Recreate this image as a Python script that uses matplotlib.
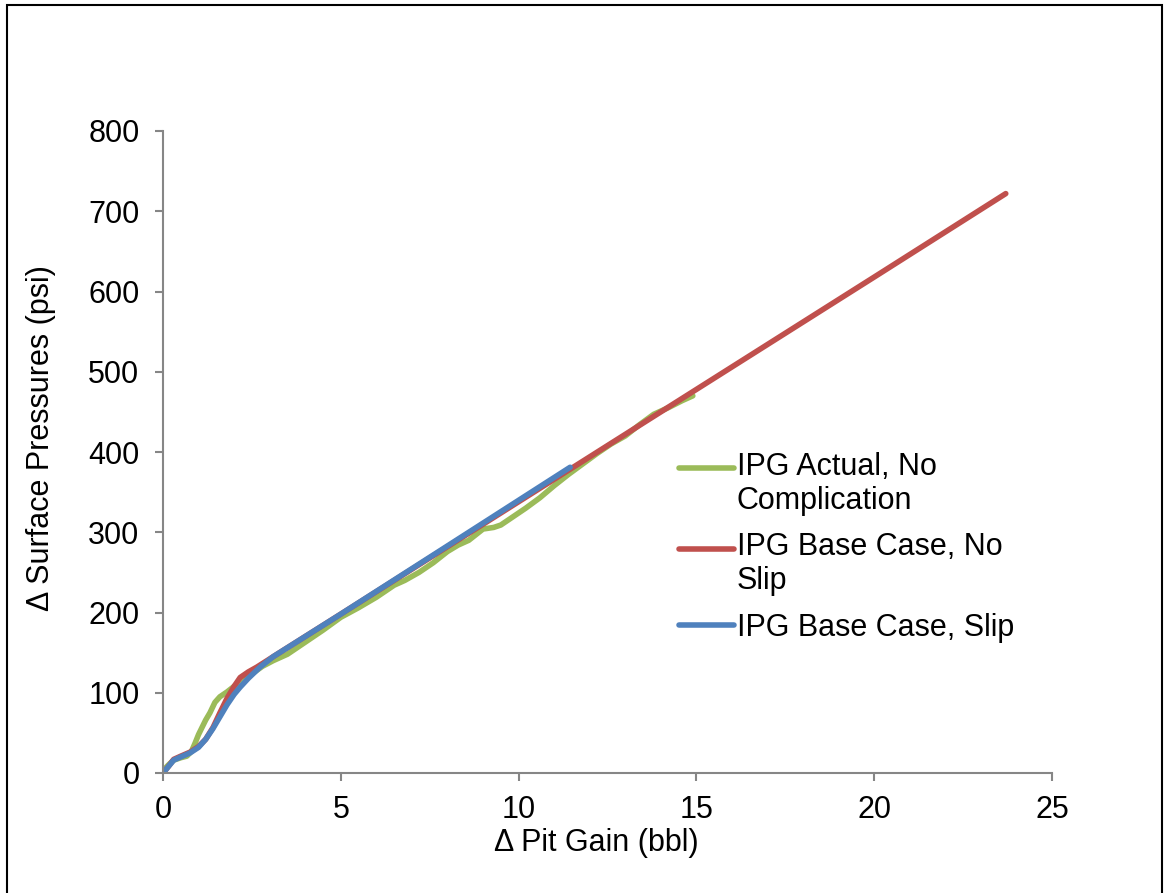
import matplotlib
matplotlib.use("Agg")
import numpy as np
import matplotlib.pyplot as plt
from matplotlib.patches import Rectangle
from matplotlib.legend_handler import HandlerLine2D

## Data ##
# IPG Actual, No Complication
actual_x = [0, 0.15, 0.3, 0.5, 0.67, 0.8, 0.9, 1.0, 1.1, 1.2, 1.32, 1.46, 1.6, 1.8, 2.0,
            2.2, 2.45, 2.8, 3.1, 3.5, 4.0, 4.5, 5.0, 5.5, 6.0, 6.5, 6.8, 7.2, 7.6, 8.0,
            8.3, 8.6, 9.0, 9.3, 9.5, 9.8, 10.2, 10.6, 11.0, 11.4, 11.8, 12.2, 12.6, 13.0,
            13.4, 13.8, 14.2, 14.6, 14.9]
actual_y = [3, 10, 16, 19, 21, 27, 37, 48, 57, 66, 75, 88, 95, 101, 108,
            115, 122, 133, 140, 148, 163, 178, 194, 206, 219, 234, 240, 250, 262, 276,
            284, 290, 304, 306, 309, 318, 330, 343, 358, 372, 385, 398, 410, 420,
            434, 447, 455, 464, 470]

# IPG Base Case, No Slip
noslip_x = [0, 0.15, 0.3, 0.5, 0.76, 1.0, 1.2, 1.41, 1.6, 1.8, 2.0, 2.17, 2.4, 2.64, 3.1,
            5.0, 10.0, 15.0, 20.0, 23.7]
noslip_y = [0, 8, 17, 21, 26, 33, 42, 57, 75, 93, 108, 119, 126, 132, 145,
            198, 338, 478, 618, 722]

# IPG Base Case, Slip
slip_x = [0, 0.15, 0.3, 0.5, 0.76, 1.0, 1.2, 1.4, 1.6, 1.8, 2.0, 2.17, 2.4, 2.73, 3.1,
          5.0, 8.0, 11.45]
slip_y = [0, 8, 16, 20, 25, 32, 42, 55, 70, 85, 98, 107, 118, 132, 145,
          198, 283, 381]

labels = ["IPG Actual, No\nComplication", "IPG Base Case, No\nSlip", "IPG Base Case, Slip"]
colors = ["#9BBB59", "#C0504D", "#4F81BD"]
## END Data ##

plt.rcParams['font.family'] = ['Liberation Sans', 'DejaVu Sans']
FS = 22
GRAY = "#868686"
LSP = 1.16   # legend line spacing
LW = 4.0


class FirstLineHandler(HandlerLine2D):
    # put the legend line next to the first text line (Excel style)
    def __init__(self, shift, **kw):
        super().__init__(**kw)
        self.shift = shift

    def create_artists(self, *args, **kw):
        arts = super().create_artists(*args, **kw)
        for a in arts:
            a.set_ydata(np.asarray(a.get_ydata()) + self.shift)
        return arts


fig = plt.figure(figsize=(11.64, 8.93), dpi=100)
ax = fig.add_axes([163 / 1164, 1 - 773 / 893, 889 / 1164, 642 / 893])

l1, = ax.plot(actual_x, actual_y, color=colors[0], lw=LW, solid_capstyle="round", label=labels[0])
l2, = ax.plot(noslip_x, noslip_y, color=colors[1], lw=LW, solid_capstyle="round", label=labels[1])
l3, = ax.plot(slip_x, slip_y, color=colors[2], lw=LW, solid_capstyle="round", label=labels[2])

ax.set_xlim(0, 25)
ax.set_ylim(0, 800)
ax.set_xticks(range(0, 26, 5))
ax.set_yticks(range(0, 801, 100))

for s in ["top", "right"]:
    ax.spines[s].set_visible(False)
for s in ["left", "bottom"]:
    ax.spines[s].set_color(GRAY)
    ax.spines[s].set_linewidth(1.5)
ax.tick_params(axis="both", direction="out", length=6, width=1.5, color=GRAY,
               labelsize=FS, labelcolor="black")
ax.tick_params(axis="y", pad=11)
ax.tick_params(axis="x", pad=10)

ax.set_xlabel("\u0394 Pit Gain (bbl)", fontsize=FS)
ax.set_ylabel("\u0394 Surface Pressures (psi)", fontsize=FS)
ax.xaxis.set_label_coords(0.487, -0.085)
ax.yaxis.set_label_coords(-0.12, 0.522)

shift = LSP * FS * 0.925 / 2
leg = ax.legend(handles=[l1, l2, l3], loc="upper left", bbox_to_anchor=(0.58, 0.50),
                frameon=False, fontsize=FS, handlelength=1.8, handletextpad=0.1,
                borderpad=0, borderaxespad=0, labelspacing=0.55,
                handler_map={l1: FirstLineHandler(shift), l2: FirstLineHandler(shift)})
for t in leg.get_texts():
    t.set_linespacing(LSP)

# outer frame
fig.patches.append(Rectangle((7 / 1164, -0.05), 1155 / 1164, 1.05 - 5 / 893,
                             transform=fig.transFigure, fill=False,
                             edgecolor="black", lw=1.5))

fig.savefig("out.png", dpi=100)
